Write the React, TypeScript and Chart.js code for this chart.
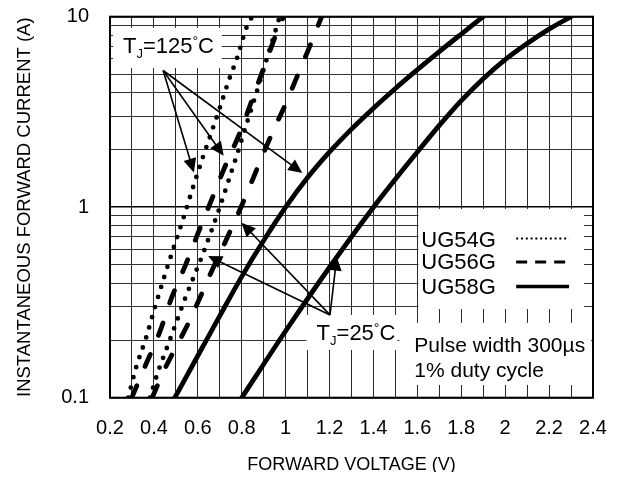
import React, { useEffect, useRef } from 'react';
import { Chart, registerables } from 'chart.js';

Chart.register(...registerables);

const FONT = '"Liberation Sans", Arial, Helvetica, sans-serif';

// Forward voltage (V) and instantaneous forward current (A)
const UG54G_125C_V = [0.283, 0.318, 0.364, 0.405, 0.447, 0.491, 0.536, 0.579, 0.623, 0.655, 0.7, 0.745, 0.779, 0.821, 0.847];
const UG54G_125C_I = [0.1, 0.143, 0.206, 0.299, 0.43, 0.618, 0.889, 1.28, 1.83, 2.34, 3.32, 4.77, 6.07, 8.73, 10];

const UG54G_25C_V = [0.382, 0.42, 0.46, 0.5, 0.54, 0.58, 0.62, 0.66, 0.7, 0.74, 0.78, 0.82, 0.86, 0.9, 0.94, 0.973];
const UG54G_25C_I = [0.1, 0.138, 0.184, 0.245, 0.327, 0.427, 0.556, 0.741, 1.0, 1.38, 1.91, 2.69, 3.76, 5.31, 7.5, 10];

const UG56G_125C_V = [0.299, 0.359, 0.427, 0.48, 0.541, 0.601, 0.662, 0.73, 0.791, 0.844, 0.905, 0.958, 0.99];
const UG56G_125C_I = [0.1, 0.1455, 0.222, 0.333, 0.488, 0.73, 1.09, 1.7, 2.45, 3.58, 5.57, 8.18, 10];

const UG56G_25C_V = [0.392, 0.45, 0.5, 0.55, 0.6, 0.65, 0.7, 0.75, 0.8, 0.85, 0.9, 0.95, 1.0, 1.05, 1.1, 1.164];
const UG56G_25C_I = [0.1, 0.142, 0.184, 0.237, 0.316, 0.428, 0.57, 0.759, 1.02, 1.4, 1.93, 2.62, 3.48, 4.79, 6.56, 10];

const UG58G_125C_V = [0.495, 0.6, 0.7, 0.8, 0.9, 1.0, 1.1, 1.2, 1.3, 1.4, 1.5, 1.6, 1.7, 1.8, 1.9];
const UG58G_125C_I = [0.1, 0.166, 0.269, 0.432, 0.668, 1.0, 1.43, 1.95, 2.57, 3.31, 4.2, 5.27, 6.56, 8.11, 10];

const UG58G_25C_V = [0.8, 1.0, 1.2, 1.4, 1.6, 1.7, 1.8, 1.9, 2.0, 2.1, 2.2, 2.3];
const UG58G_25C_I = [0.1, 0.224, 0.484, 1.0, 1.95, 2.69, 3.63, 4.73, 5.96, 7.24, 8.61, 10];

const X_GRID = [0.2, 0.3, 0.4, 0.5, 0.6, 0.7, 0.8, 0.9, 1.0, 1.1, 1.2, 1.3, 1.4, 1.5, 1.6, 1.7, 1.8, 1.9, 2.0, 2.1, 2.2, 2.3, 2.4];
const X_TICK_LABELS = ['0.2', '0.4', '0.6', '0.8', '1', '1.2', '1.4', '1.6', '1.8', '2', '2.2', '2.4'];
const Y_GRID = [0.1, 0.2, 0.3, 0.4, 0.5, 0.6, 0.7, 0.8, 0.9, 1, 2, 3, 4, 5, 6, 7, 8, 9, 10];
const Y_TICK_LABELS = ['0.1', '1', '10'];

const LEGEND_LABELS = ['UG54G', 'UG56G', 'UG58G'];
const NOTE_LINES = ['Pulse width 300\u00b5s', '1% duty cycle'];
const X_TITLE = 'FORWARD VOLTAGE (V)';
const Y_TITLE = 'INSTANTANEOUS FORWARD CURRENT (A)';

const SERIES = [
  { label: 'UG54G', temp: '125', v: UG54G_125C_V, i: UG54G_125C_I },
  { label: 'UG54G', temp: '25', v: UG54G_25C_V, i: UG54G_25C_I },
  { label: 'UG56G', temp: '125', v: UG56G_125C_V, i: UG56G_125C_I },
  { label: 'UG56G', temp: '25', v: UG56G_25C_V, i: UG56G_25C_I },
  { label: 'UG58G', temp: '125', v: UG58G_125C_V, i: UG58G_125C_I },
  { label: 'UG58G', temp: '25', v: UG58G_25C_V, i: UG58G_25C_I },
];

const LINE_STYLES: Record<string, { width: number; dash: number[] }> = {
  UG54G: { width: 4.8, dash: [0, 10.5] },
  UG56G: { width: 4.8, dash: [13, 21] },
  UG58G: { width: 4.8, dash: [] },
};
const LEGEND_STYLES: Record<string, { width: number; dash: number[] }> = {
  UG54G: { width: 2, dash: [2, 2.8] },
  UG56G: { width: 3, dash: [11, 8] },
  UG58G: { width: 3.5, dash: [] },
};

// Annotation placement, in data units (V, A)
const BOXES = [
  { x0: 0.214, x1: 0.709, y0: 8.73, y1: 5.38 },
  { x0: 1.095, x1: 1.509, y0: 0.272, y1: 0.178 },
  { x0: 1.605, x1: 2.359, y0: 0.979, y1: 0.292 },
  { x0: 1.518, x1: 2.391, y0: 0.247, y1: 0.1166 },
];
const TJ_LABELS = [
  { temp: '125', x: 0.259, y: 6.45 },
  { temp: '25', x: 1.141, y: 0.201 },
];
const ARROWS = [
  { from: [0.442, 5.22], to: [[0.582, 1.52], [0.718, 1.86], [1.076, 1.51]] },
  { from: [1.202, 0.272], to: [[0.647, 0.554], [0.799, 0.829], [1.233, 0.55]] },
];
const LEGEND_POS = { x: 1.618, baselines: [0.62, 0.471, 0.35], lineX0: 2.05, lineX1: 2.291, lineY: [0.685, 0.516, 0.3834] };
const NOTE_POS = { x: 1.586, baselines: [0.1738, 0.1284] };

const isMajorY = (v: number) => Y_TICK_LABELS.some((l) => Math.abs(parseFloat(l) - v) < 1e-9);

function drawRich(ctx: CanvasRenderingContext2D, x: number, y: number, parts: { t: string; s: number; dy?: number }[]) {
  let cx = x;
  ctx.textAlign = 'left';
  ctx.textBaseline = 'alphabetic';
  for (const p of parts) {
    ctx.font = `${p.s}px ${FONT}`;
    ctx.fillText(p.t, cx, y + (p.dy || 0));
    cx += ctx.measureText(p.t).width;
  }
}

function drawArrow(ctx: CanvasRenderingContext2D, x0: number, y0: number, x1: number, y1: number) {
  const dx = x1 - x0;
  const dy = y1 - y0;
  const len = Math.hypot(dx, dy);
  const ux = dx / len;
  const uy = dy / len;
  const head = 14;
  const half = 6.5;
  ctx.beginPath();
  ctx.moveTo(x0, y0);
  ctx.lineTo(x1 - ux * head * 0.8, y1 - uy * head * 0.8);
  ctx.stroke();
  const bx = x1 - ux * head;
  const by = y1 - uy * head;
  ctx.beginPath();
  ctx.moveTo(x1, y1);
  ctx.lineTo(bx - uy * half, by + ux * half);
  ctx.lineTo(bx + uy * half, by - ux * half);
  ctx.closePath();
  ctx.fill();
}

const annotationPlugin = {
  id: 'annotations',
  beforeDatasetsDraw(chart: any) {
    const ctx: CanvasRenderingContext2D = chart.ctx;
    const sx = chart.scales.x;
    const sy = chart.scales.y;
    const px = (v: number) => sx.getPixelForValue(v);
    const py = (v: number) => sy.getPixelForValue(v);
    ctx.save();
    ctx.fillStyle = '#ffffff';
    for (const b of BOXES) {
      const l = px(b.x0);
      const r = px(b.x1);
      const t = py(b.y0);
      const bt = py(b.y1);
      ctx.fillRect(l, t, r - l, bt - t);
    }
    ctx.fillStyle = '#000';
    for (const lab of TJ_LABELS) {
      drawRich(ctx, px(lab.x), py(lab.y), [
        { t: 'T', s: 22 },
        { t: 'J', s: 13, dy: 5 },
        { t: '=' + lab.temp, s: 22 },
        { t: '\u00b0', s: 14, dy: -7 },
        { t: 'C', s: 22 },
      ]);
    }
    LEGEND_LABELS.forEach((name, k) => {
      ctx.font = `22px ${FONT}`;
      ctx.textAlign = 'left';
      ctx.textBaseline = 'alphabetic';
      ctx.fillStyle = '#000';
      ctx.fillText(name, px(LEGEND_POS.x), py(LEGEND_POS.baselines[k]));
      const st = LEGEND_STYLES[name];
      ctx.strokeStyle = '#000';
      ctx.lineWidth = st.width;
      ctx.lineCap = 'butt';
      ctx.setLineDash(st.dash);
      const ly = py(LEGEND_POS.lineY[k]);
      ctx.beginPath();
      ctx.moveTo(px(LEGEND_POS.lineX0), ly);
      ctx.lineTo(px(LEGEND_POS.lineX1), ly);
      ctx.stroke();
      ctx.setLineDash([]);
    });
    ctx.font = `21px ${FONT}`;
    NOTE_LINES.forEach((line, k) => {
      ctx.fillText(line, px(NOTE_POS.x), py(NOTE_POS.baselines[k]));
    });
    ctx.restore();
  },
  afterDatasetsDraw(chart: any) {
    const ctx: CanvasRenderingContext2D = chart.ctx;
    const sx = chart.scales.x;
    const sy = chart.scales.y;
    const px = (v: number) => sx.getPixelForValue(v);
    const py = (v: number) => sy.getPixelForValue(v);
    ctx.save();
    ctx.strokeStyle = '#000';
    ctx.fillStyle = '#000';
    ctx.lineWidth = 1.6;
    ctx.setLineDash([]);
    for (const a of ARROWS) {
      for (const t of a.to) {
        drawArrow(ctx, px(a.from[0]), py(a.from[1]), px(t[0]), py(t[1]));
      }
    }
    const ca = chart.chartArea;
    ctx.lineWidth = 2;
    ctx.strokeRect(ca.left, ca.top, ca.right - ca.left, ca.bottom - ca.top);
    ctx.restore();
  },
};

export default function App() {
  const ref = useRef<HTMLCanvasElement>(null);
  useEffect(() => {
    const datasets = SERIES.map((s) => ({
      label: s.label + ' ' + s.temp + '\u00b0C',
      data: s.v.map((v, k) => ({ x: v, y: s.i[k] })),
      borderColor: '#000',
      backgroundColor: '#000',
      borderWidth: LINE_STYLES[s.label].width,
      borderDash: LINE_STYLES[s.label].dash,
      borderCapStyle: 'round' as const,
      borderJoinStyle: 'round' as const,
      pointRadius: 0,
      fill: false,
      cubicInterpolationMode: 'monotone' as const,
    }));
    const chart = new Chart(ref.current as HTMLCanvasElement, {
      type: 'line',
      data: { datasets },
      plugins: [annotationPlugin],
      options: {
        animation: false,
        responsive: false,
        layout: { padding: { top: 8.7, right: 16, bottom: 0, left: 0 } },
        plugins: { legend: { display: false }, tooltip: { enabled: false } },
        scales: {
          x: {
            type: 'linear',
            min: 0.2,
            max: 2.4,
            afterBuildTicks: (s: any) => {
              s.ticks = X_GRID.map((v) => ({ value: v }));
            },
            afterFit: (s: any) => {
              s.height = 74.3;
              s.paddingLeft = 0;
              s.paddingRight = 0;
            },
            ticks: {
              autoSkip: false,
              maxRotation: 0,
              padding: 19,
              color: '#000',
              font: { family: FONT, size: 20 },
              callback: (value: any) => {
                const lab = X_TICK_LABELS.find((l) => Math.abs(parseFloat(l) - Number(value)) < 1e-6);
                return lab === undefined ? '' : lab;
              },
            },
            grid: { color: '#2a2a2a', lineWidth: 1, drawTicks: false },
            border: { display: false },
            title: {
              display: true,
              text: X_TITLE,
              color: '#000',
              font: { family: FONT, size: 18, lineHeight: 1.0 },
              padding: { top: 0, bottom: -2 },
            },
          },
          y: {
            type: 'logarithmic',
            min: 0.1,
            max: 10,
            afterBuildTicks: (s: any) => {
              s.ticks = Y_GRID.map((v) => ({ value: v, major: isMajorY(v) }));
            },
            afterFit: (s: any) => {
              s.width = 102;
              s.paddingTop = 0;
              s.paddingBottom = 0;
            },
            ticks: {
              autoSkip: false,
              padding: 21,
              color: '#000',
              font: { family: FONT, size: 20 },
              callback: (value: any) => {
                const lab = Y_TICK_LABELS.find((l) => Math.abs(parseFloat(l) - Number(value)) < 1e-9);
                return lab === undefined ? '' : lab;
              },
            },
            grid: {
              drawTicks: false,
              color: (c: any) => (c.tick && isMajorY(c.tick.value) ? '#000' : '#333'),
              lineWidth: (c: any) => (c.tick && isMajorY(c.tick.value) ? 1.5 : 1),
            },
            border: { display: false },
            title: {
              display: true,
              text: Y_TITLE,
              color: '#000',
              font: { family: FONT, size: 18.5, lineHeight: 1.2 },
              padding: { top: 5.5, bottom: 0 },
            },
          },
        },
      } as any,
    });
    return () => chart.destroy();
  }, []);
  return <canvas ref={ref} width={601} height={464} style={{ display: 'block', width: '601px', height: '464px' }} />;
}
